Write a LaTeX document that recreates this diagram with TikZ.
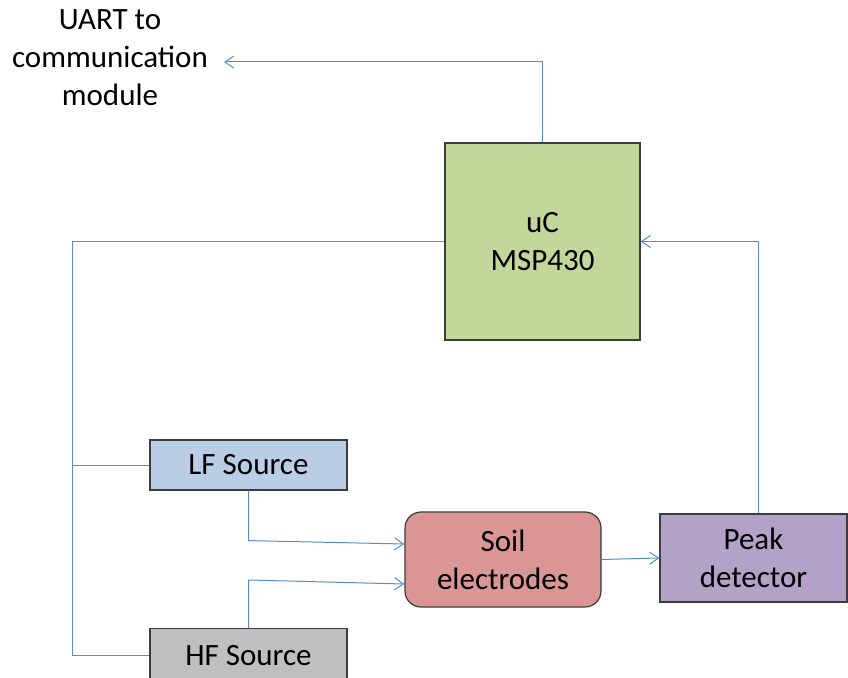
\documentclass[tikz,border=0pt]{standalone}
\usepackage{fontspec}
\setmainfont{Carlito}
\usetikzlibrary{arrows.meta}
\definecolor{wire}{RGB}{90,140,205}
\definecolor{ucfill}{RGB}{196,215,155}
\definecolor{lffill}{RGB}{185,205,229}
\definecolor{hffill}{RGB}{191,191,191}
\definecolor{soilfill}{RGB}{217,150,148}
\definecolor{peakfill}{RGB}{178,162,199}
\definecolor{edge}{RGB}{60,60,60}
\begin{document}
\begin{tikzpicture}[x=1pt,y=-1pt,
  blk/.style={draw=edge,line width=1.2pt,inner sep=0pt,align=center,
    font=\fontsize{31}{38}\selectfont},
  lbl/.style={inner sep=0pt,align=center,font=\fontsize{31}{38}\selectfont},
  wirestyle/.style={draw=wire,line width=1pt},
  arr/.style={wirestyle,-{Straight Barb[length=9pt,width=12pt,line width=1pt]}}]
\clip (0,0) rectangle (848,677);
\fill[white] (0,0) rectangle (848,677);
\node[blk,fill=ucfill,minimum width=195pt,minimum height=197pt] (uc) at (542.5,241.5) {uC\\MSP430};
\node[blk,fill=lffill,minimum width=197pt,minimum height=50pt] (lf) at (248.5,465) {LF Source};
\node[blk,fill=hffill,minimum width=197pt,minimum height=54pt,anchor=north] (hf) at (248.5,628) {};
\node[lbl,anchor=base] (hft) at (248.5,665) {HF Source};
\node[blk,fill=soilfill,rounded corners=16pt,minimum width=196pt,minimum height=95pt] (soil) at (503,559.5) {Soil\\electrodes};
\node[blk,fill=peakfill,minimum width=187pt,minimum height=88pt] (peak) at (753.5,558) {Peak\\detector};
\node[lbl] (uart) at (110,58) {UART to\\communication\\module};
\coordinate (uarttip) at (224,62);
\coordinate (bus) at (72,0);
% uC to UART
\draw[arr] (uc.north) |- (uarttip);
% uC to sources
\draw[wirestyle] (uc.west) -- (bus |- uc.west) -- (bus |- hf.west) -- (hf.west);
\draw[wirestyle] (bus |- lf.west) -- (lf.west);
% sources to soil
\draw[arr] (lf.south) -- ++(0,50) -- ([yshift=15.5pt]soil.west);
\draw[arr] (hf.north) -- ++(0,-48) -- ([yshift=-24.5pt]soil.west);
% soil to peak
\draw[arr] (soil.east) -- (peak.west);
% peak to uC
\draw[arr] ([xshift=4.5pt]peak.north) |- (uc.east);
\end{tikzpicture}
\end{document}
